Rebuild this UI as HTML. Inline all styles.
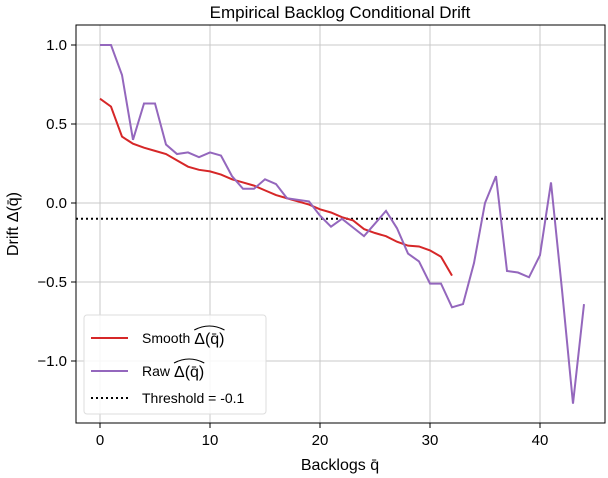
<!DOCTYPE html>
<html><head><meta charset="utf-8"><style>
body{margin:0;background:#fff;}
svg{display:block;font-family:"Liberation Sans",sans-serif;}
</style></head><body>
<svg id="chart" width="608" height="478"></svg>
<script>
const xs = [0,1,2,3,4,5,6,7,8,9,10,11,12,13,14,15,16,17,18,19,20,21,22,23,24,25,26,27,28,29,30,31,32,33,34,35,36,37,38,39,40,41,42,43,44];
const rawVals = [1.0,1.0,0.81,0.40,0.63,0.63,0.37,0.31,0.32,0.29,0.32,0.30,0.17,0.09,0.09,0.15,0.12,0.03,0.02,0.01,-0.08,-0.15,-0.10,-0.155,-0.21,-0.13,-0.05,-0.16,-0.32,-0.37,-0.51,-0.51,-0.66,-0.64,-0.38,0.0,0.17,-0.43,-0.44,-0.47,-0.33,0.13,-0.55,-1.27,-0.64];
const smoothVals = [0.66,0.61,0.42,0.375,0.35,0.33,0.31,0.27,0.23,0.21,0.20,0.18,0.15,0.13,0.11,0.08,0.05,0.03,0.01,-0.01,-0.04,-0.06,-0.09,-0.11,-0.165,-0.19,-0.21,-0.245,-0.27,-0.275,-0.30,-0.34,-0.46];
const threshold = -0.1;
const xTicks = [0,10,20,30,40];
const yTicks = [1.0,0.5,0.0,-0.5,-1.0];
const yTickLabels = ["1.0","0.5","0.0","\u22120.5","\u22121.0"];

const L=76,R=605,T=25,B=423;
const sx=v=>100+v*11;
const sy=v=>203-v*158;
const NS="http://www.w3.org/2000/svg";
const svg=document.getElementById('chart');
function mk(tag,attrs,parent){const e=document.createElementNS(NS,tag);for(const k in attrs)e.setAttribute(k,attrs[k]);(parent||svg).appendChild(e);return e;}

const grid=mk('g',{});


xTicks.forEach(t=>{mk('line',{x1:sx(t),x2:sx(t),y1:T,y2:B,stroke:'#c8c8c8','stroke-width':1},grid);
  mk('line',{x1:sx(t),x2:sx(t),y1:B,y2:B+5,stroke:'#000'},grid);
  const tx=mk('text',{x:sx(t),y:B+22,'text-anchor':'middle','font-size':15,fill:'#000'});
  
  
  tx.textContent=t;});
yTicks.forEach((t,i)=>{mk('line',{x1:L,x2:R,y1:sy(t),y2:sy(t),stroke:'#c8c8c8','stroke-width':1},grid);
  mk('line',{x1:L-5,x2:L,y1:sy(t),y2:sy(t),stroke:'#000'},grid);
  const tx=mk('text',{x:L-9,y:sy(t)+5,'text-anchor':'end','font-size':15,fill:'#000'});
  
  
  tx.textContent=yTickLabels[i];});

const th=mk('line',{x1:L,x2:R,y1:sy(threshold),y2:sy(threshold),stroke:'#000','stroke-width':2,'stroke-dasharray':'2,3'});



const sm=mk('polyline',{points:smoothVals.map((v,i)=>sx(xs[i])+','+sy(v)).join(' '),fill:'none',stroke:'#d62728','stroke-width':2});


const rw=mk('polyline',{points:rawVals.map((v,i)=>sx(xs[i])+','+sy(v)).join(' '),fill:'none',stroke:'#9467bd','stroke-width':2});



mk('rect',{x:L,y:T,width:R-L,height:B-T,fill:'none',stroke:'#000','stroke-width':1});

const title=mk('text',{x:340,y:18,'text-anchor':'middle','font-size':17});


title.textContent='Empirical Backlog Conditional Drift';
const xl=mk('text',{x:340,y:470,'text-anchor':'middle','font-size':16});


xl.textContent='Backlogs q\u0304';
const yl=mk('text',{x:18,y:224,'text-anchor':'middle','font-size':16,transform:'rotate(-90 18 224)'});


yl.textContent='Drift \u0394(q\u0304)';

const lg=mk('g',{});


mk('rect',{x:84,y:315,width:182,height:99,rx:3,fill:'#fff','fill-opacity':0.85,stroke:'#ddd'},lg);
const entries=[['Smooth','#d62728',null,338,true],['Raw','#9467bd',null,371,true],['Threshold = -0.1','#000','2,3',398,false]];
entries.forEach(e=>{
  const g=mk('g',{},lg);
  
  
  const a={x1:91,x2:128,y1:e[3],y2:e[3],stroke:e[1],'stroke-width':2};
  if(e[2])a['stroke-dasharray']=e[2];
  mk('line',a,g);
  const t=mk('text',{x:142,y:e[3]+5,'font-size':14},g);
  t.textContent=e[0];
  if(e[4]){
    const w=t.getComputedTextLength();
    const m=mk('text',{x:142+w+4,y:e[3]+6,'font-size':16},g);
    m.textContent='\u0394(q\u0304)';
    const mw=m.getComputedTextLength();
    const x0=142+w+4;
    mk('path',{d:`M${x0} ${e[3]-8} Q${x0+mw/2} ${e[3]-16} ${x0+mw} ${e[3]-8}`,fill:'none',stroke:'#000','stroke-width':1},g);
  }
});
</script>
</body></html>
